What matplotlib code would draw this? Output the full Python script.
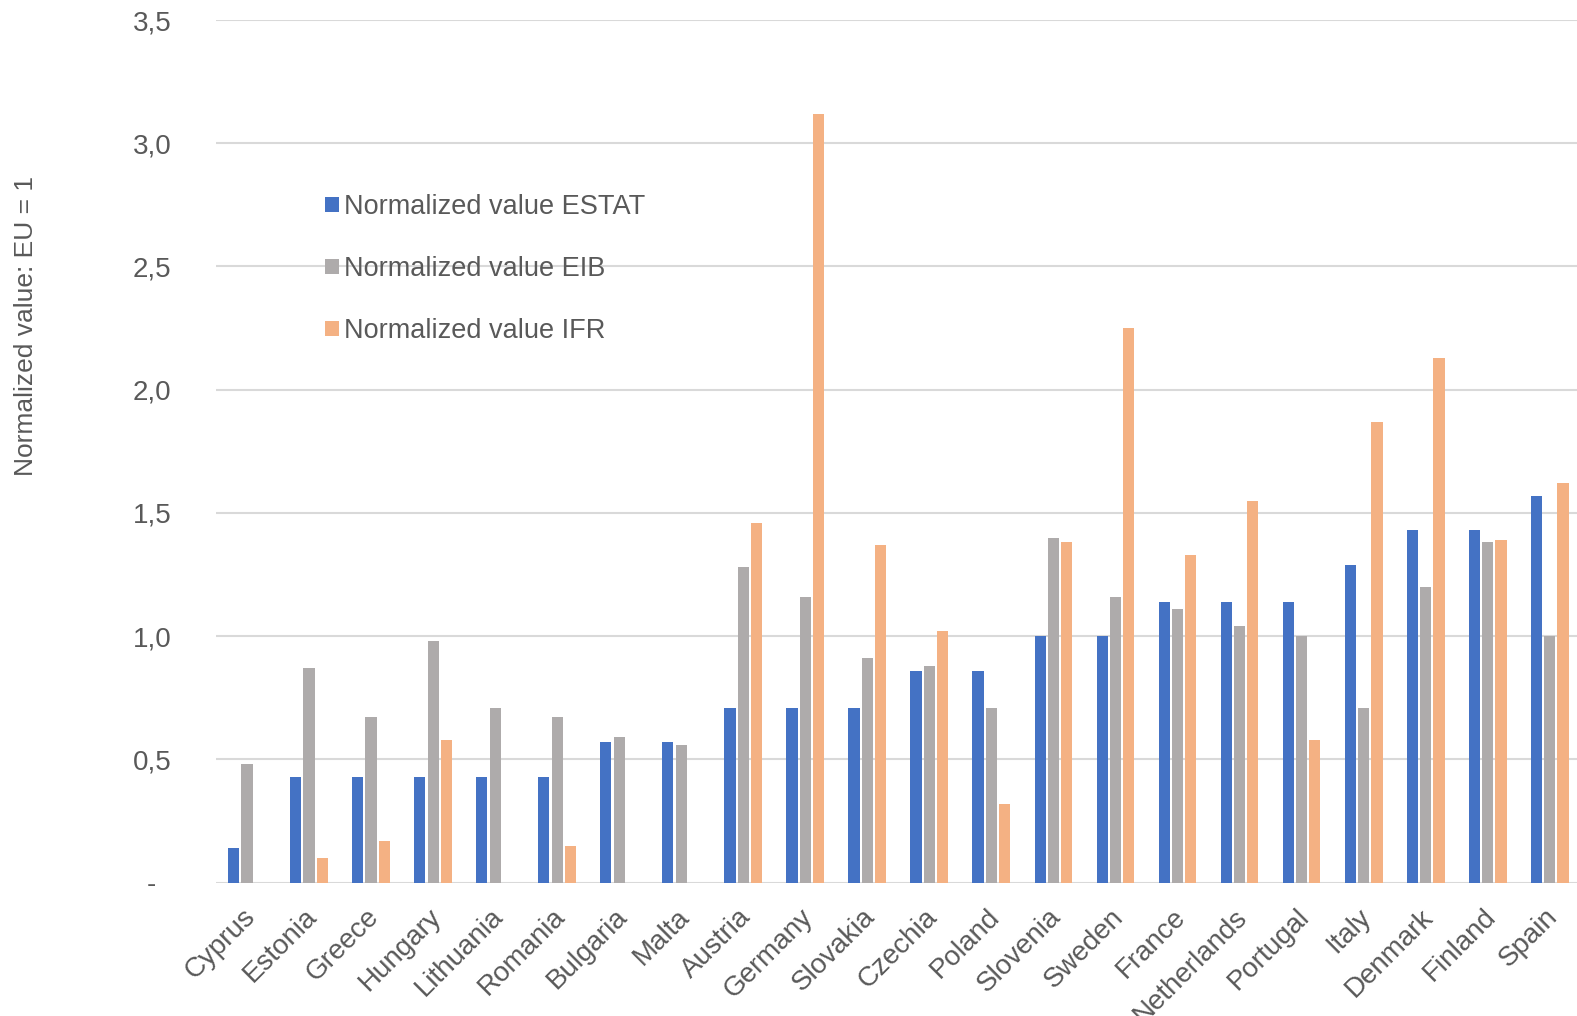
import matplotlib.pyplot as plt
import matplotlib.transforms as mtransforms
import numpy as np

countries = ["Cyprus", "Estonia", "Greece", "Hungary", "Lithuania", "Romania",
             "Bulgaria", "Malta", "Austria", "Germany", "Slovakia", "Czechia",
             "Poland", "Slovenia", "Sweden", "France", "Netherlands", "Portugal",
             "Italy", "Denmark", "Finland", "Spain"]

estat = [0.14, 0.43, 0.43, 0.43, 0.43, 0.43, 0.57, 0.57, 0.71, 0.71, 0.71, 0.86,
         0.86, 1.00, 1.00, 1.14, 1.14, 1.14, 1.29, 1.43, 1.43, 1.57]
eib = [0.48, 0.87, 0.67, 0.98, 0.71, 0.67, 0.59, 0.56, 1.28, 1.16, 0.91, 0.88,
       0.71, 1.40, 1.16, 1.11, 1.04, 1.00, 0.71, 1.20, 1.38, 1.00]
ifr = [0.0, 0.10, 0.17, 0.58, 0.0, 0.15, 0.0, 0.0, 1.46, 3.12, 1.37, 1.02,
       0.32, 1.38, 2.25, 1.33, 1.55, 0.58, 1.87, 2.13, 1.39, 1.62]

yticks = [0, 0.5, 1.0, 1.5, 2.0, 2.5, 3.0, 3.5]
ytick_labels = ["-  ", "0,5", "1,0", "1,5", "2,0", "2,5", "3,0", "3,5"]

plt.rcParams['font.family'] = ['Liberation Sans', 'DejaVu Sans']
txt = '#595959'

fig = plt.figure(figsize=(15.77, 10.16), dpi=100)
ax = fig.add_axes([216 / 1577, 133.5 / 1016, 1 - 216 / 1577, (882.5 - 20) / 1016])

x = np.arange(len(countries))
step = 0.215
w = 0.18
ax.bar(x - step, estat, w, color='#4472C4', label='Normalized value ESTAT', zorder=3)
ax.bar(x, eib, w, color='#AEABAB', label='Normalized value EIB', zorder=3)
ax.bar(x + step, ifr, w, color='#F4B183', label='Normalized value IFR', zorder=3)

ax.set_xlim(-0.5, 21.44)
ax.set_ylim(0, 3.5)
ax.set_yticks(yticks)
ax.set_yticklabels(ytick_labels)
ax.set_xticks(x)
ax.set_xticklabels(countries, rotation=45, ha='right', va='center',
                   rotation_mode='anchor')
ax.tick_params(axis='y', length=0, pad=32, labelsize=20, labelcolor=txt)
ax.tick_params(axis='x', length=0, pad=22, labelsize=20, labelcolor=txt)
# nudge the slanted country names a little to the right
shift = mtransforms.ScaledTranslation(4 / 100, 0, fig.dpi_scale_trans)
for lab in ax.get_xticklabels():
    lab.set_transform(lab.get_transform() + shift)
ax.yaxis.grid(True, color='#D9D9D9', linewidth=1.5, zorder=0)
for s in ax.spines.values():
    s.set_visible(False)

fig.text(26 / 1577, 1 - 326 / 1016, "Normalized value: EU = 1", rotation=90,
         ha='center', va='center', fontsize=19, color=txt)

leg = ax.legend(loc='upper left', bbox_to_anchor=(325 / 1577, 1 - 194 / 1016),
                bbox_transform=fig.transFigure, frameon=False, fontsize=19.5,
                handlelength=0.5, handleheight=0.5, handletextpad=0.2,
                labelspacing=1.33, borderpad=0, borderaxespad=0)
for t in leg.get_texts():
    t.set_color(txt)

fig.savefig('out.png', dpi=100)
